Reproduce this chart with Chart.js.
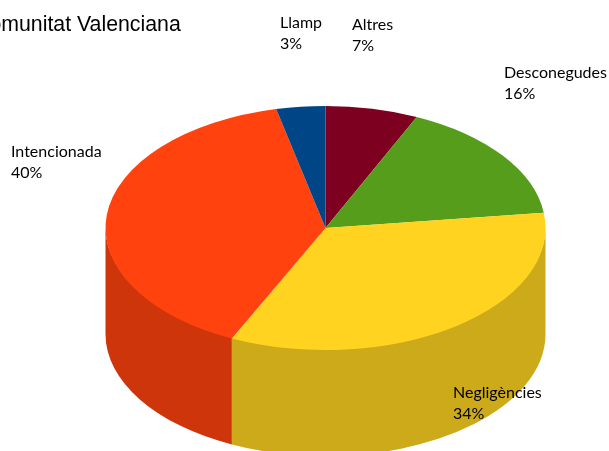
<!DOCTYPE html>
<html>
<head>
<meta charset="utf-8">
<style>
html, body { margin: 0; padding: 0; background: #fff; overflow: hidden; }
#wrap { position: relative; width: 609px; height: 451px; }
</style>
<script src="https://cdn.jsdelivr.net/npm/chart.js@4/dist/chart.umd.min.js"></script>
</head>
<body>
<div id="wrap"><canvas id="myChart" width="609" height="451"></canvas></div>
<script>
const categories = ["Altres", "Desconegudes", "Negligències", "Intencionada", "Llamp"];
// slice sizes, the printed labels are rounded differently
const sliceValues = [6.8, 16.2, 34, 39.4, 3.6];
const percentLabels = ["7%", "16%", "34%", "40%", "3%"];
const topColors = ["#7e0021", "#579d1c", "#ffd320", "#ff420e", "#004586"];
const sideColors = ["#65001a", "#467e16", "#ccaa1a", "#ce350b", "#00386b"];
const chartTitle = "Comunitat Valenciana";

// squash of the pie and the height of the wall
const squash = 0.555;
const depth = 106;
const centerY = 228;

// where each label goes, same order as categories
const labelPos = [[352, 30], [504, 78], [453, 398], [11, 157], [280, 28]];

const toScreen = (chart, ctx) => {
    const arc = chart.getDatasetMeta(0).data[0];
    ctx.translate(0, centerY);
    ctx.scale(1, squash);
    ctx.translate(0, -arc.y);
};

const pie3d = {
    id: "pie3d",
    beforeDatasetsDraw(chart) {
        const ctx = chart.ctx;
        const arcs = chart.getDatasetMeta(0).data;
        // walls, only the part of each slice facing us
        arcs.forEach((arc, i) => {
            const start = Math.max(arc.startAngle, 0);
            const end = Math.min(arc.endAngle, Math.PI);
            if (end <= start) return;
            const r = arc.outerRadius;
            ctx.save();
            ctx.beginPath();
            // 1px up so no white seam shows under the top face
            ctx.ellipse(arc.x, centerY - 1, r, r * squash, 0, start, end);
            ctx.ellipse(arc.x, centerY + depth, r, r * squash, 0, end, start, true);
            ctx.closePath();
            ctx.fillStyle = sideColors[i];
            ctx.fill();
            ctx.restore();
        });
        ctx.save();
        toScreen(chart, ctx);
    },
    afterDatasetsDraw(chart) {
        const ctx = chart.ctx;
        ctx.restore();
        ctx.save();
        ctx.fillStyle = "#000";
        ctx.textBaseline = "alphabetic";
        ctx.font = "16px Lato";
        categories.forEach((name, i) => {
            const [x, y] = labelPos[i];
            ctx.fillText(name, x, y);
            ctx.fillText(percentLabels[i], x, y + 21);
        });
        ctx.font = "21.3px 'Liberation Sans'";
        ctx.fillText(chartTitle, -26, 31);
        ctx.restore();
    }
};

const ctx = document.getElementById("myChart").getContext("2d");
const myChart = new Chart(ctx, {
    type: "pie",
    data: {
        labels: categories,
        datasets: [{
            data: sliceValues,
            backgroundColor: topColors,
            borderWidth: 0,
            clip: false
        }]
    },
    options: {
        responsive: false,
        animation: false,
        layout: { padding: { left: 105.5, right: 63.5, top: 5, bottom: 6 } },
        plugins: {
            legend: { display: false },
            tooltip: { enabled: false }
        }
    },
    plugins: [pie3d]
});
</script>
</body>
</html>
